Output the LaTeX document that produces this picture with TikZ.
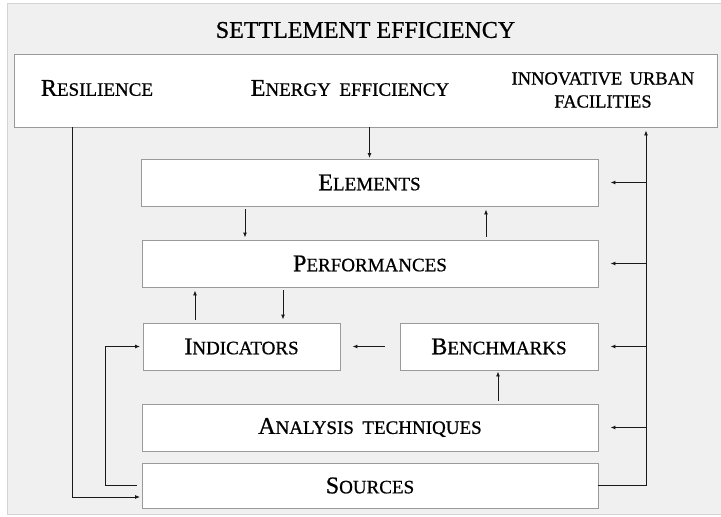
\documentclass[tikz,border=0pt]{standalone}
\usepackage{fontspec}
\setmainfont{Liberation Serif}[FakeBold=0.8]
\usetikzlibrary{arrows.meta,calc}
\definecolor{panel}{HTML}{F0F0F0}
\definecolor{panelline}{HTML}{D4D4D4}
\definecolor{boxline}{HTML}{9A9A9A}
\definecolor{conn}{HTML}{1A1A1A}
\newcommand\fsc[2]{{\fontsize{24}{26}\selectfont #1}{\fontsize{19}{21}\selectfont #2}}
\tikzset{
  box/.style={draw=boxline, line width=0.9pt, fill=white, inner sep=0pt},
  lbl/.style={inner sep=0pt, align=center},
  arr/.style={draw=conn, line width=0.9pt, -{Latex[length=5pt,width=4pt]}},
  ln/.style={draw=conn, line width=0.9pt}
}
\begin{document}
\begin{tikzpicture}[x=1pt,y=-1pt]
\useasboundingbox (0,0) rectangle (721,517);
\fill[white] (0,0) rectangle (721,517);
\draw[fill=panel, draw=panelline, line width=1pt] (7,3) rectangle (730,514);

\node[lbl] (title) at (365.5,30) {\fontsize{24}{26}\selectfont SETTLEMENT EFFICIENCY};

\node[box, minimum width=703pt, minimum height=73pt] (top) at (365.5,90.5) {};
\node[lbl] (res) at (97,88) {\fsc{R}{ESILIENCE}};
\node[lbl] (ene) at (350,88) {\fsc{E}{NERGY\hspace{0.45em}EFFICIENCY}};
\node[lbl, align=center, font=\fontsize{18.5}{23}\selectfont] (inn) at (603,90) {INNOVATIVE\hspace{0.4em}URBAN\\FACILITIES};

\node[box, minimum width=457pt, minimum height=47pt] (el) at (369.5,182.5) {\fsc{E}{LEMENTS}};
\node[box, minimum width=456pt, minimum height=47pt] (perf) at (370,263.5) {\fsc{P}{ERFORMANCES}};
\node[box, minimum width=197pt, minimum height=47pt] (ind) at (241.5,346.5) {\fsc{I}{NDICATORS}};
\node[box, minimum width=198pt, minimum height=47pt] (bench) at (499,346.5) {\fsc{B}{ENCHMARKS}};
\node[box, minimum width=456pt, minimum height=47pt] (ana) at (370,427.5) {\fsc{A}{NALYSIS\hspace{0.45em}TECHNIQUES}};
\node[box, minimum width=456pt, minimum height=45pt] (src) at (370,485.5) {\fsc{S}{OURCES}};

\coordinate (bus) at (646,0);
\coordinate (rl) at (72,0);
\coordinate (ll) at (105,0);

% energy efficiency -> elements
\draw[arr, shorten >=0.5pt] (el.north |- top.south) -- (el.north);
% elements <-> performances
\draw[arr, shorten <=3pt, shorten >=2pt] (el.south -| 245,0) -- (perf.north -| 245,0);
\draw[arr, shorten <=3pt, shorten >=3pt] (perf.north -| 486,0) -- (el.south -| 486,0);
% performances <-> indicators
\draw[arr, shorten <=3pt, shorten >=3pt] (ind.north -| 195,0) -- (perf.south -| 195,0);
\draw[arr, shorten <=3pt, shorten >=3pt] (perf.south -| 283,0) -- (ind.north -| 283,0);
% benchmarks -> indicators
\draw[arr, shorten <=15pt, shorten >=12pt] (bench.west) -- (ind.west -| ind.east);
% analysis -> benchmarks
\draw[arr, shorten <=3pt, shorten >=1pt] (ana.north -| 498,0) -- (bench.south -| 498,0);
% sources -> bus -> top
\draw[arr, shorten >=3pt] (src.east) -| (bus |- top.south);
\draw[arr, shorten >=12pt] (bus |- el.east) -- (el.east);
\draw[arr, shorten >=12pt] (bus |- perf.east) -- (perf.east);
\draw[arr, shorten >=12pt] (bus |- bench.east) -- (bench.east);
\draw[arr, shorten >=12pt] (bus |- ana.east) -- (ana.east);
% resilience -> sources
\draw[arr, shorten >=1.5pt] (rl |- top.south) |- ($(src.west)+(0,11.5)$);
% sources -> indicators
\draw[arr, shorten >=2.5pt] ($(src.west)+(-5,0)$) -| (ll |- ind.west) -- (ind.west);
\end{tikzpicture}
\end{document}
